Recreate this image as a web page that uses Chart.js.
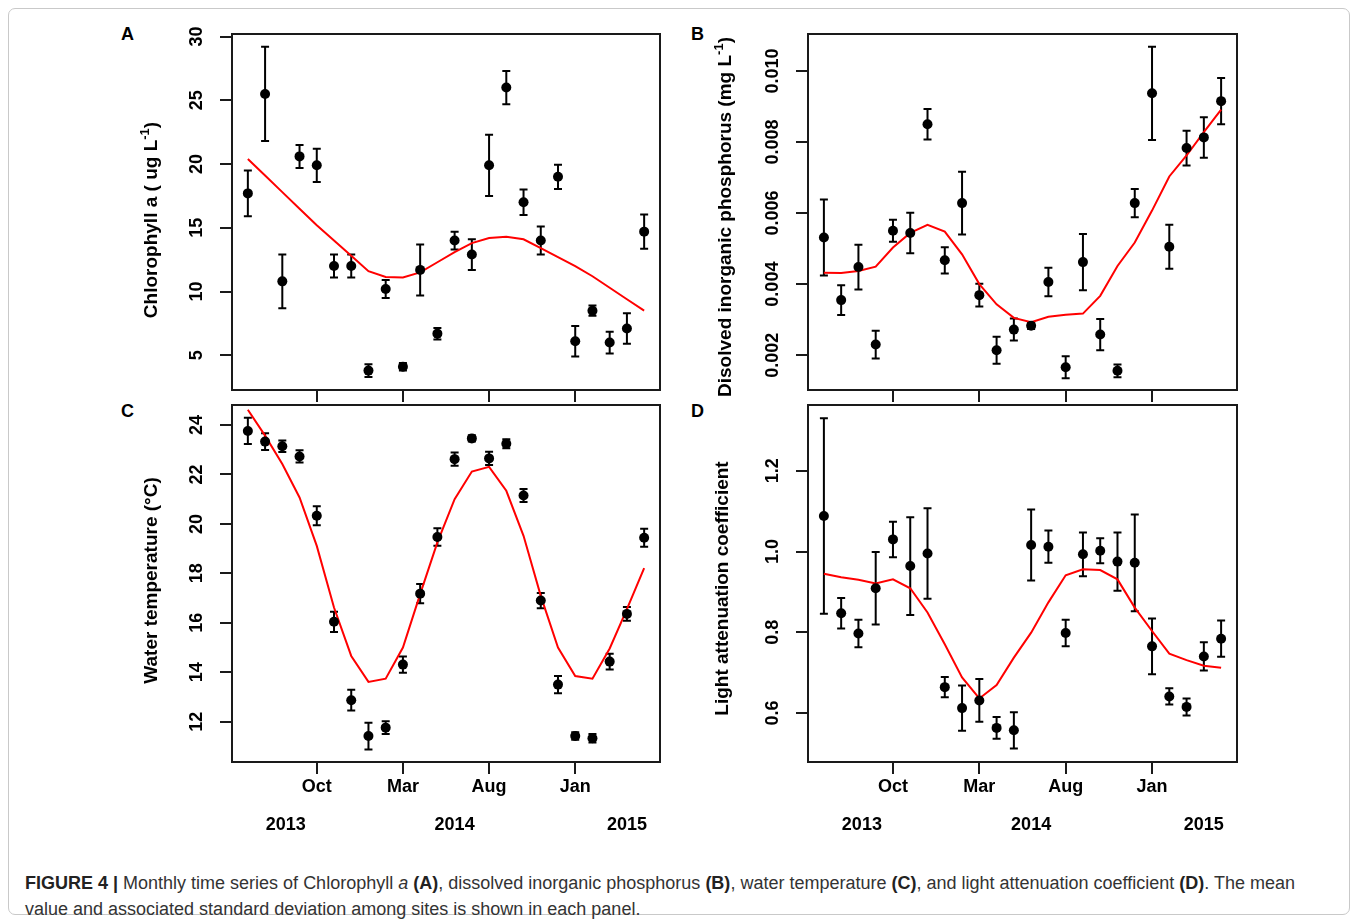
<!DOCTYPE html>
<html>
<head>
<meta charset="utf-8">
<script src="https://cdn.jsdelivr.net/npm/chart.js@4.4.1/dist/chart.umd.min.js"></script>
<style>
  body { margin: 0; background: #fff; width: 1357px; height: 922px; position: relative; overflow: hidden; font-family: "Liberation Sans", Arial, sans-serif; }
  .frame { position: absolute; left: 8px; top: 8px; width: 1340px; height: 905px; border: 1px solid #c9c9c9; border-radius: 7px; }
  canvas { position: absolute; }
  .letter { position: absolute; font-weight: bold; font-size: 18px; color: #000; }
  .caption { position: absolute; left: 25px; top: 870px; font-family: "Liberation Sans", Arial, sans-serif; font-size: 18px; line-height: 26px; color: #333; white-space: nowrap; }
  .caption b { color: #222; }
</style>
</head>
<body>
<div class="frame"></div>
<div class="letter" style="left:121px; top:24px;">A</div>
<div class="letter" style="left:691px; top:24px;">B</div>
<div class="letter" style="left:121px; top:401px;">C</div>
<div class="letter" style="left:691px; top:401px;">D</div>

<canvas id="chartA" width="560" height="385" style="left:110px; top:20px;"></canvas>
<canvas id="chartB" width="560" height="385" style="left:690px; top:20px;"></canvas>
<canvas id="chartC" width="560" height="440" style="left:110px; top:398px;"></canvas>
<canvas id="chartD" width="560" height="440" style="left:690px; top:398px;"></canvas>

<div class="caption"><b>FIGURE 4 |</b> Monthly time series of Chlorophyll <i>a</i> <b>(A)</b>, dissolved inorganic phosphorus <b>(B)</b>, water temperature <b>(C)</b>, and light attenuation coefficient <b>(D)</b>. The mean<br>value and associated standard deviation among sites is shown in each panel.</div>

<script>
// months Jun 2013 .. May 2015, one sample per month
const months = ['Jun', 'Jul', 'Aug', 'Sep', 'Oct', 'Nov', 'Dec', 'Jan', 'Feb', 'Mar', 'Apr', 'May',
                'Jun', 'Jul', 'Aug', 'Sep', 'Oct', 'Nov', 'Dec', 'Jan', 'Feb', 'Mar', 'Apr', 'May'];
const monthTicks = [4, 9, 14, 19];
const monthLabels = ['Oct', 'Mar', 'Aug', 'Jan'];
const yearTicks = [2.2, 12, 22];
const yearLabels = ['2013', '2014', '2015'];

// A - chlorophyll a
const chlMean = [17.7, 25.5, 10.8, 20.6, 19.9, 12.0, 12.0, 3.8, 10.2, 4.1, 11.7, 6.7,
                 14.0, 12.9, 19.9, 26.0, 17.0, 14.0, 19.0, 6.1, 8.5, 6.0, 7.1, 14.7];
const chlSd = [1.8, 3.7, 2.1, 0.9, 1.3, 0.9, 0.9, 0.5, 0.7, 0.3, 2.0, 0.45,
               0.7, 1.2, 2.4, 1.3, 1.0, 1.1, 0.95, 1.2, 0.4, 0.85, 1.2, 1.35];
const chlFit = [20.4, 19.1, 17.8, 16.5, 15.2, 14.0, 12.8, 11.6, 11.15, 11.1, 11.5, 12.3,
                13.1, 13.8, 14.2, 14.3, 14.1, 13.4, 12.7, 12.0, 11.2, 10.3, 9.4, 8.5];
const chlTicks = [5, 10, 15, 20, 25, 30];
const chlTickLabels = ['5', '10', '15', '20', '25', '30'];

// B - dissolved inorganic phosphorus
const dipMean = [0.00531, 0.00355, 0.00448, 0.00230, 0.00550, 0.00544, 0.00850, 0.00467, 0.00628, 0.00369, 0.00214, 0.00272,
                 0.00283, 0.00406, 0.00166, 0.00462, 0.00258, 0.00156, 0.00628, 0.00937, 0.00505, 0.00783, 0.00813, 0.00915];
const dipSd = [0.00107, 0.00042, 0.00063, 0.00039, 0.00031, 0.00057, 0.00043, 0.00037, 0.00088, 0.00032, 0.00038, 0.00031,
               0.00009, 0.00040, 0.00031, 0.00079, 0.00044, 0.00018, 0.00040, 0.00131, 0.00062, 0.00049, 0.00057, 0.00065];
const dipFit = [0.00432, 0.00431, 0.00437, 0.00449, 0.00503, 0.00544, 0.00567, 0.00548, 0.00484, 0.00400, 0.00343, 0.00305,
                0.00293, 0.00308, 0.00314, 0.00317, 0.00367, 0.00451, 0.00517, 0.00607, 0.00703, 0.00762, 0.00828, 0.00891];
const dipTicks = [0.002, 0.004, 0.006, 0.008, 0.010];
const dipTickLabels = ['0.002', '0.004', '0.006', '0.008', '0.010'];

// C - water temperature
const tempMean = [23.76, 23.33, 23.14, 22.73, 20.33, 16.04, 12.87, 11.42, 11.76, 14.31, 17.18, 19.47,
                  22.62, 23.46, 22.65, 23.24, 21.15, 16.90, 13.50, 11.42, 11.33, 14.43, 16.36, 19.44];
const tempSd = [0.53, 0.34, 0.23, 0.25, 0.38, 0.41, 0.42, 0.54, 0.26, 0.33, 0.39, 0.35,
                0.27, 0.13, 0.27, 0.18, 0.26, 0.31, 0.35, 0.15, 0.17, 0.32, 0.28, 0.36];
const tempFit = [24.62, 23.57, 22.42, 21.07, 19.11, 16.62, 14.66, 13.61, 13.74, 15.00, 17.16, 19.25,
                 21.00, 22.12, 22.31, 21.34, 19.52, 17.09, 15.00, 13.85, 13.74, 14.96, 16.55, 18.21];
const tempTicks = [12, 14, 16, 18, 20, 22, 24];
const tempTickLabels = ['12', '14', '16', '18', '20', '22', '24'];

// D - light attenuation coefficient
const kdMean = [1.088, 0.847, 0.797, 0.909, 1.030, 0.964, 0.995, 0.664, 0.612, 0.631, 0.563, 0.557,
                1.016, 1.012, 0.798, 0.993, 1.002, 0.975, 0.972, 0.765, 0.641, 0.615, 0.740, 0.784];
const kdSd = [0.242, 0.038, 0.034, 0.090, 0.044, 0.121, 0.112, 0.025, 0.056, 0.053, 0.027, 0.045,
              0.088, 0.040, 0.033, 0.054, 0.031, 0.072, 0.120, 0.069, 0.020, 0.021, 0.035, 0.045];
const kdFit = [0.945, 0.936, 0.930, 0.921, 0.931, 0.909, 0.849, 0.770, 0.688, 0.636, 0.669, 0.737,
               0.799, 0.874, 0.941, 0.956, 0.954, 0.931, 0.861, 0.803, 0.747, 0.731, 0.717, 0.712];
const kdTicks = [0.6, 0.8, 1.0, 1.2];
const kdTickLabels = ['0.6', '0.8', '1.0', '1.2'];

const FONT = '"Liberation Sans", Arial, sans-serif';
const INK = '#1a1a1a';

// error bars, frame, rotated y labels and y title (R style)
const panelDecor = {
  id: 'panelDecor',
  beforeDatasetsDraw(chart, args, opts) {
    const { ctx, scales: { x, y } } = chart;
    ctx.save();
    ctx.strokeStyle = '#000';
    ctx.lineWidth = 2;
    opts.mean.forEach((m, i) => {
      const px = x.getPixelForValue(i);
      const top = y.getPixelForValue(m + opts.sd[i]);
      const bot = y.getPixelForValue(m - opts.sd[i]);
      ctx.beginPath();
      ctx.moveTo(px, top); ctx.lineTo(px, bot);
      ctx.moveTo(px - 4, top); ctx.lineTo(px + 4, top);
      ctx.moveTo(px - 4, bot); ctx.lineTo(px + 4, bot);
      ctx.stroke();
    });
    ctx.restore();
  },
  afterDraw(chart, args, opts) {
    const { ctx, chartArea: a, scales: { y } } = chart;
    ctx.save();
    ctx.strokeStyle = INK;
    ctx.lineWidth = 2;
    ctx.strokeRect(a.left, a.top, a.right - a.left, a.bottom - a.top);

    // tick labels, parallel to the axis
    ctx.fillStyle = '#000';
    ctx.font = 'bold 18px ' + FONT;
    ctx.textAlign = 'center';
    ctx.textBaseline = 'middle';
    y.ticks.forEach((t, i) => {
      ctx.save();
      ctx.translate(a.left - 35, y.getPixelForValue(t.value));
      ctx.rotate(-Math.PI / 2);
      ctx.fillText(opts.tickLabels[i], 0, 0);
      ctx.restore();
    });

    // axis title with optional superscript
    const big = 'bold 19px ' + FONT, small = 'bold 13px ' + FONT;
    let total = 0;
    opts.title.forEach(p => { ctx.font = p.sup ? small : big; total += ctx.measureText(p.t).width; });
    ctx.translate(a.left - opts.titleOffset, (a.top + a.bottom) / 2 + opts.titleShift);
    ctx.rotate(-Math.PI / 2);
    ctx.textAlign = 'left';
    let pos = -total / 2;
    opts.title.forEach(p => {
      ctx.font = p.sup ? small : big;
      ctx.fillText(p.t, pos, p.sup ? -7 : 0);
      pos += ctx.measureText(p.t).width;
    });
    ctx.restore();
  }
};

function makePanel(id, p) {
  const pts = p.mean.map((v, i) => ({ x: i, y: v }));
  const fit = p.fit.map((v, i) => ({ x: i, y: v }));
  const scales = {
    x: {
      type: 'linear',
      min: -0.92, max: 23.92,
      afterBuildTicks: s => { s.ticks = monthTicks.map(v => ({ value: v })); },
      afterFit: s => { s.height = p.labels ? 40 : 15; },
      grid: { drawOnChartArea: false, drawTicks: true, tickLength: 12, color: INK, lineWidth: 2 },
      border: { display: false },
      ticks: {
        display: !!p.labels,
        padding: 2,
        color: '#000',
        font: { family: FONT, size: 18, weight: 'bold' },
        maxRotation: 0,
        callback: (v, i) => monthLabels[i]
      }
    },
    y: {
      type: 'linear',
      min: p.ymin, max: p.ymax,
      afterBuildTicks: s => { s.ticks = p.yticks.map(v => ({ value: v })); },
      afterFit: s => { s.width = p.yWidth; },
      grid: { drawOnChartArea: false, drawTicks: true, tickLength: 12, color: INK, lineWidth: 2 },
      border: { display: false },
      ticks: { display: false }
    }
  };
  if (p.labels) {
    scales.x2 = {
      type: 'linear',
      position: 'bottom',
      min: -0.92, max: 23.92,
      afterBuildTicks: s => { s.ticks = yearTicks.map(v => ({ value: v })); },
      afterFit: s => { s.height = 36; },
      grid: { display: false, drawTicks: false },
      border: { display: false },
      ticks: {
        padding: 12,
        color: '#000',
        font: { family: FONT, size: 18, weight: 'bold' },
        maxRotation: 0,
        callback: (v, i) => yearLabels[i]
      }
    };
  }
  return new Chart(document.getElementById(id), {
    type: 'line',
    data: {
      datasets: [
        { data: pts, showLine: false, pointRadius: 5, pointBackgroundColor: '#000', pointBorderWidth: 0, pointBorderColor: '#000' },
        { data: fit, borderColor: '#ff0000', borderWidth: 2, pointRadius: 0, tension: 0, fill: false }
      ]
    },
    options: {
      responsive: false,
      animation: false,
      events: [],
      layout: { padding: { left: 0, top: p.padTop, right: p.padRight, bottom: 0 } },
      scales,
      plugins: {
        legend: { display: false },
        tooltip: { enabled: false },
        panelDecor: {
          mean: p.mean, sd: p.sd, tickLabels: p.tickLabels,
          title: p.title, titleOffset: p.titleOffset, titleShift: p.titleShift
        }
      }
    },
    plugins: [panelDecor]
  });
}

makePanel('chartA', {
  mean: chlMean, sd: chlSd, fit: chlFit, yticks: chlTicks, tickLabels: chlTickLabels,
  ymin: 2.28, ymax: 30.2, yWidth: 122, padTop: 14, padRight: 10, labels: false,
  title: [{ t: 'Chlorophyll a ( ug L' }, { t: '-1', sup: true }, { t: ')' }], titleOffset: 80, titleShift: 8
});
makePanel('chartB', {
  mean: dipMean, sd: dipSd, fit: dipFit, yticks: dipTicks, tickLabels: dipTickLabels,
  ymin: 0.00102, ymax: 0.01104, yWidth: 118, padTop: 14, padRight: 13, labels: false,
  title: [{ t: 'Disolved inorganic phosphorus (mg L' }, { t: '-1', sup: true }, { t: ')' }], titleOffset: 82, titleShift: 5
});
makePanel('chartC', {
  mean: tempMean, sd: tempSd, fit: tempFit, yticks: tempTicks, tickLabels: tempTickLabels,
  ymin: 10.37, ymax: 24.81, yWidth: 122, padTop: 7, padRight: 10, labels: true,
  title: [{ t: 'Water temperature (°C)' }], titleOffset: 80, titleShift: -3
});
makePanel('chartD', {
  mean: kdMean, sd: kdSd, fit: kdFit, yticks: kdTicks, tickLabels: kdTickLabels,
  ymin: 0.4785, ymax: 1.363, yWidth: 118, padTop: 7, padRight: 13, labels: true,
  title: [{ t: 'Light attenuation coefficient' }], titleOffset: 85, titleShift: 5
});
</script>
</body>
</html>
